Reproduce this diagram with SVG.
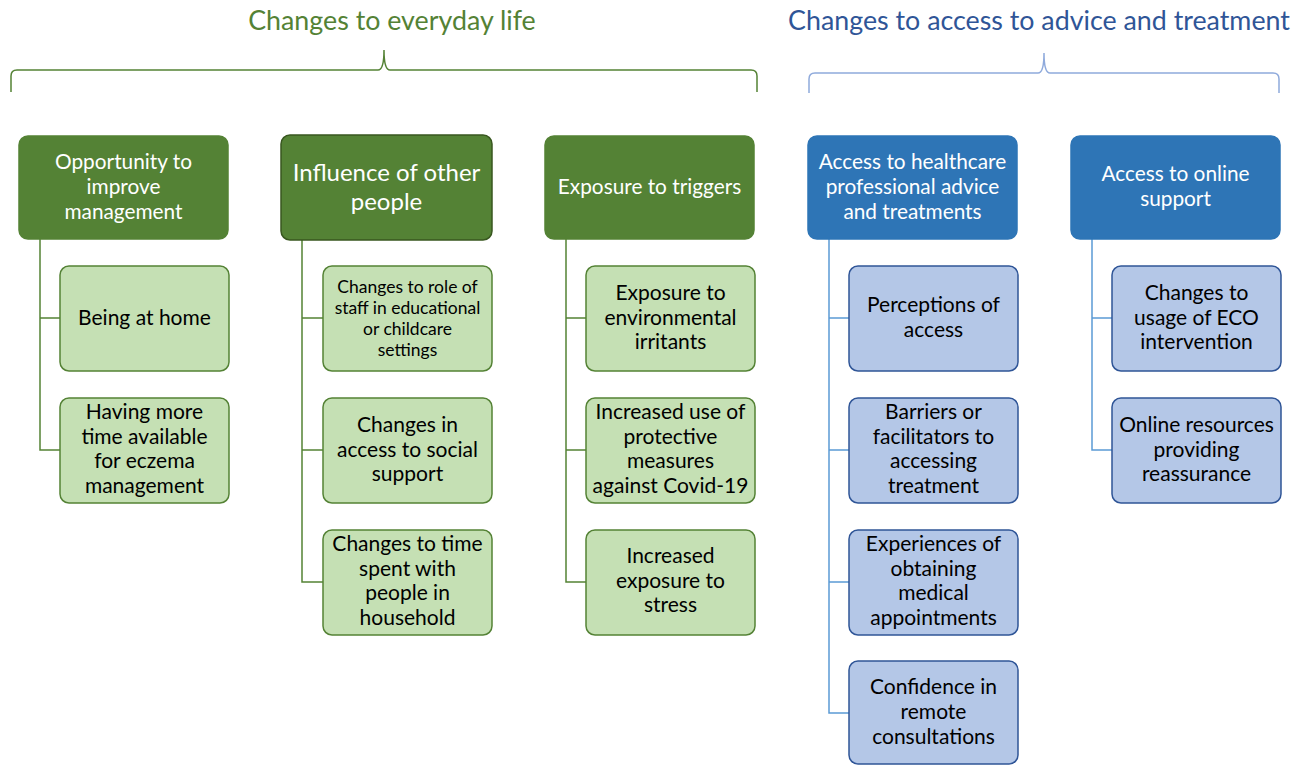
<svg xmlns="http://www.w3.org/2000/svg" width="1293" height="765" viewBox="0 0 1293 765">
<style>
text{font-family:Lato,"Open Sans","Liberation Sans",sans-serif;text-anchor:middle}
.hd{font-size:26.8px}
.mg{fill:#548235;stroke:#548235;stroke-width:1.5}
.mg2{fill:#548235;stroke:#38571f;stroke-width:1.5}
.mb{fill:#2e75b6;stroke:#2e75b6;stroke-width:1.5}
.sg{fill:#c5e0b4;stroke:#548235;stroke-width:1.5}
.sb{fill:#b4c7e7;stroke:#2f5597;stroke-width:1.5}
.mt{fill:#ffffff;font-size:20.8px}
.st{fill:#000000;font-size:21px}
.cg{fill:none;stroke:#548235;stroke-width:1.5}
.cb{fill:none;stroke:#5b9bd5;stroke-width:1.5}
</style>
<rect width="1293" height="765" fill="#ffffff"/>
<g id="headers">
<text class="hd" x="392" y="30" fill="#548235">Changes to everyday life</text>
<text class="hd" x="1039" y="30" fill="#2f5597">Changes to access to advice and treatment</text>
</g>
<g id="connectors">
<path class="cg" d="M11,92 V76 Q11,70 17,70 H378 Q384,70 384,50 Q384,70 390,70 H751 Q757,70 757,76 V92"/>
<path d="M809,93 V79 Q809,73 815,73 H1038 Q1044,73 1044,53 Q1044,73 1050,73 H1273 Q1279,73 1279,79 V93" fill="none" stroke="#8faadc" stroke-width="1.5"/>
<path class="cg" d="M40,239 V450 H60 M40,318 H60"/>
<path class="cg" d="M302,240 V582 H323 M302,318 H323 M302,450 H323"/>
<path class="cg" d="M566,239 V582 H586 M566,318 H586 M566,450 H586"/>
<path class="cb" d="M829,239 V713 H849 M829,318 H849 M829,450 H849 M829,582 H849"/>
<path class="cb" d="M1092,239 V450 H1112 M1092,318 H1112"/>
</g>
<g id="opportunity">
<rect class="mg" x="19" y="136" width="209" height="103" rx="9"/>
<text class="mt" x="123.5" y="169">Opportunity to</text>
<text class="mt" x="123.5" y="194">improve</text>
<text class="mt" x="123.5" y="219">management</text>
</g>
<g id="influence">
<rect class="mg2" x="281" y="135" width="211" height="105" rx="9"/>
<text class="mt" x="386.5" y="181" style="font-size:24px">Influence of other</text>
<text class="mt" x="386.5" y="210" style="font-size:24px">people</text>
</g>
<g id="triggers">
<rect class="mg" x="545" y="136" width="209" height="103" rx="9"/>
<text class="mt" x="649.5" y="194">Exposure to triggers</text>
</g>
<g id="healthcare">
<rect class="mb" x="808" y="136" width="209" height="103" rx="9"/>
<text class="mt" x="912.5" y="169">Access to healthcare</text>
<text class="mt" x="912.5" y="194">professional advice</text>
<text class="mt" x="912.5" y="219">and treatments</text>
</g>
<g id="online">
<rect class="mb" x="1071" y="136" width="209" height="103" rx="9"/>
<text class="mt" x="1175.5" y="181">Access to online</text>
<text class="mt" x="1175.5" y="206">support</text>
</g>
<g id="home">
<rect class="sg" x="60" y="266" width="169" height="105" rx="9"/>
<text class="st" x="144.5" y="325">Being at home</text>
</g>
<g id="moretime">
<rect class="sg" x="60" y="398" width="169" height="105" rx="9"/>
<text class="st" x="144.5" y="419">Having more</text>
<text class="st" x="144.5" y="444">time available</text>
<text class="st" x="144.5" y="468">for eczema</text>
<text class="st" x="144.5" y="493">management</text>
</g>
<g id="staff">
<rect class="sg" x="323" y="266" width="169" height="105" rx="9"/>
<text class="st" x="407.5" y="293" style="font-size:17.5px">Changes to role of</text>
<text class="st" x="407.5" y="314" style="font-size:17.5px">staff in educational</text>
<text class="st" x="407.5" y="335" style="font-size:17.5px">or childcare</text>
<text class="st" x="407.5" y="356" style="font-size:17.5px">settings</text>
</g>
<g id="social">
<rect class="sg" x="323" y="398" width="169" height="105" rx="9"/>
<text class="st" x="407.5" y="432">Changes in</text>
<text class="st" x="407.5" y="457">access to social</text>
<text class="st" x="407.5" y="481">support</text>
</g>
<g id="household">
<rect class="sg" x="323" y="530" width="169" height="105" rx="9"/>
<text class="st" x="407.5" y="551">Changes to time</text>
<text class="st" x="407.5" y="576">spent with</text>
<text class="st" x="407.5" y="600">people in</text>
<text class="st" x="407.5" y="625">household</text>
</g>
<g id="irritants">
<rect class="sg" x="586" y="266" width="169" height="105" rx="9"/>
<text class="st" x="670.5" y="300">Exposure to</text>
<text class="st" x="670.5" y="325">environmental</text>
<text class="st" x="670.5" y="349">irritants</text>
</g>
<g id="protective">
<rect class="sg" x="586" y="398" width="169" height="105" rx="9"/>
<text class="st" x="670.5" y="419">Increased use of</text>
<text class="st" x="670.5" y="444">protective</text>
<text class="st" x="670.5" y="468">measures</text>
<text class="st" x="670.5" y="493">against Covid-19</text>
</g>
<g id="stress">
<rect class="sg" x="586" y="530" width="169" height="105" rx="9"/>
<text class="st" x="670.5" y="563">Increased</text>
<text class="st" x="670.5" y="588">exposure to</text>
<text class="st" x="670.5" y="612">stress</text>
</g>
<g id="perceptions">
<rect class="sb" x="849" y="266" width="169" height="105" rx="9"/>
<text class="st" x="933.5" y="312">Perceptions of</text>
<text class="st" x="933.5" y="337">access</text>
</g>
<g id="barriers">
<rect class="sb" x="849" y="398" width="169" height="105" rx="9"/>
<text class="st" x="933.5" y="419">Barriers or</text>
<text class="st" x="933.5" y="444">facilitators to</text>
<text class="st" x="933.5" y="468">accessing</text>
<text class="st" x="933.5" y="493">treatment</text>
</g>
<g id="appointments">
<rect class="sb" x="849" y="530" width="169" height="105" rx="9"/>
<text class="st" x="933.5" y="551">Experiences of</text>
<text class="st" x="933.5" y="576">obtaining</text>
<text class="st" x="933.5" y="600">medical</text>
<text class="st" x="933.5" y="625">appointments</text>
</g>
<g id="remote">
<rect class="sb" x="849" y="661" width="169" height="103" rx="9"/>
<text class="st" x="933.5" y="694">Confidence in</text>
<text class="st" x="933.5" y="719">remote</text>
<text class="st" x="933.5" y="744">consultations</text>
</g>
<g id="eco">
<rect class="sb" x="1112" y="266" width="169" height="105" rx="9"/>
<text class="st" x="1196.5" y="300">Changes to</text>
<text class="st" x="1196.5" y="325">usage of ECO</text>
<text class="st" x="1196.5" y="349">intervention</text>
</g>
<g id="resources">
<rect class="sb" x="1112" y="398" width="169" height="105" rx="9"/>
<text class="st" x="1196.5" y="432">Online resources</text>
<text class="st" x="1196.5" y="457">providing</text>
<text class="st" x="1196.5" y="481">reassurance</text>
</g>
</svg>
